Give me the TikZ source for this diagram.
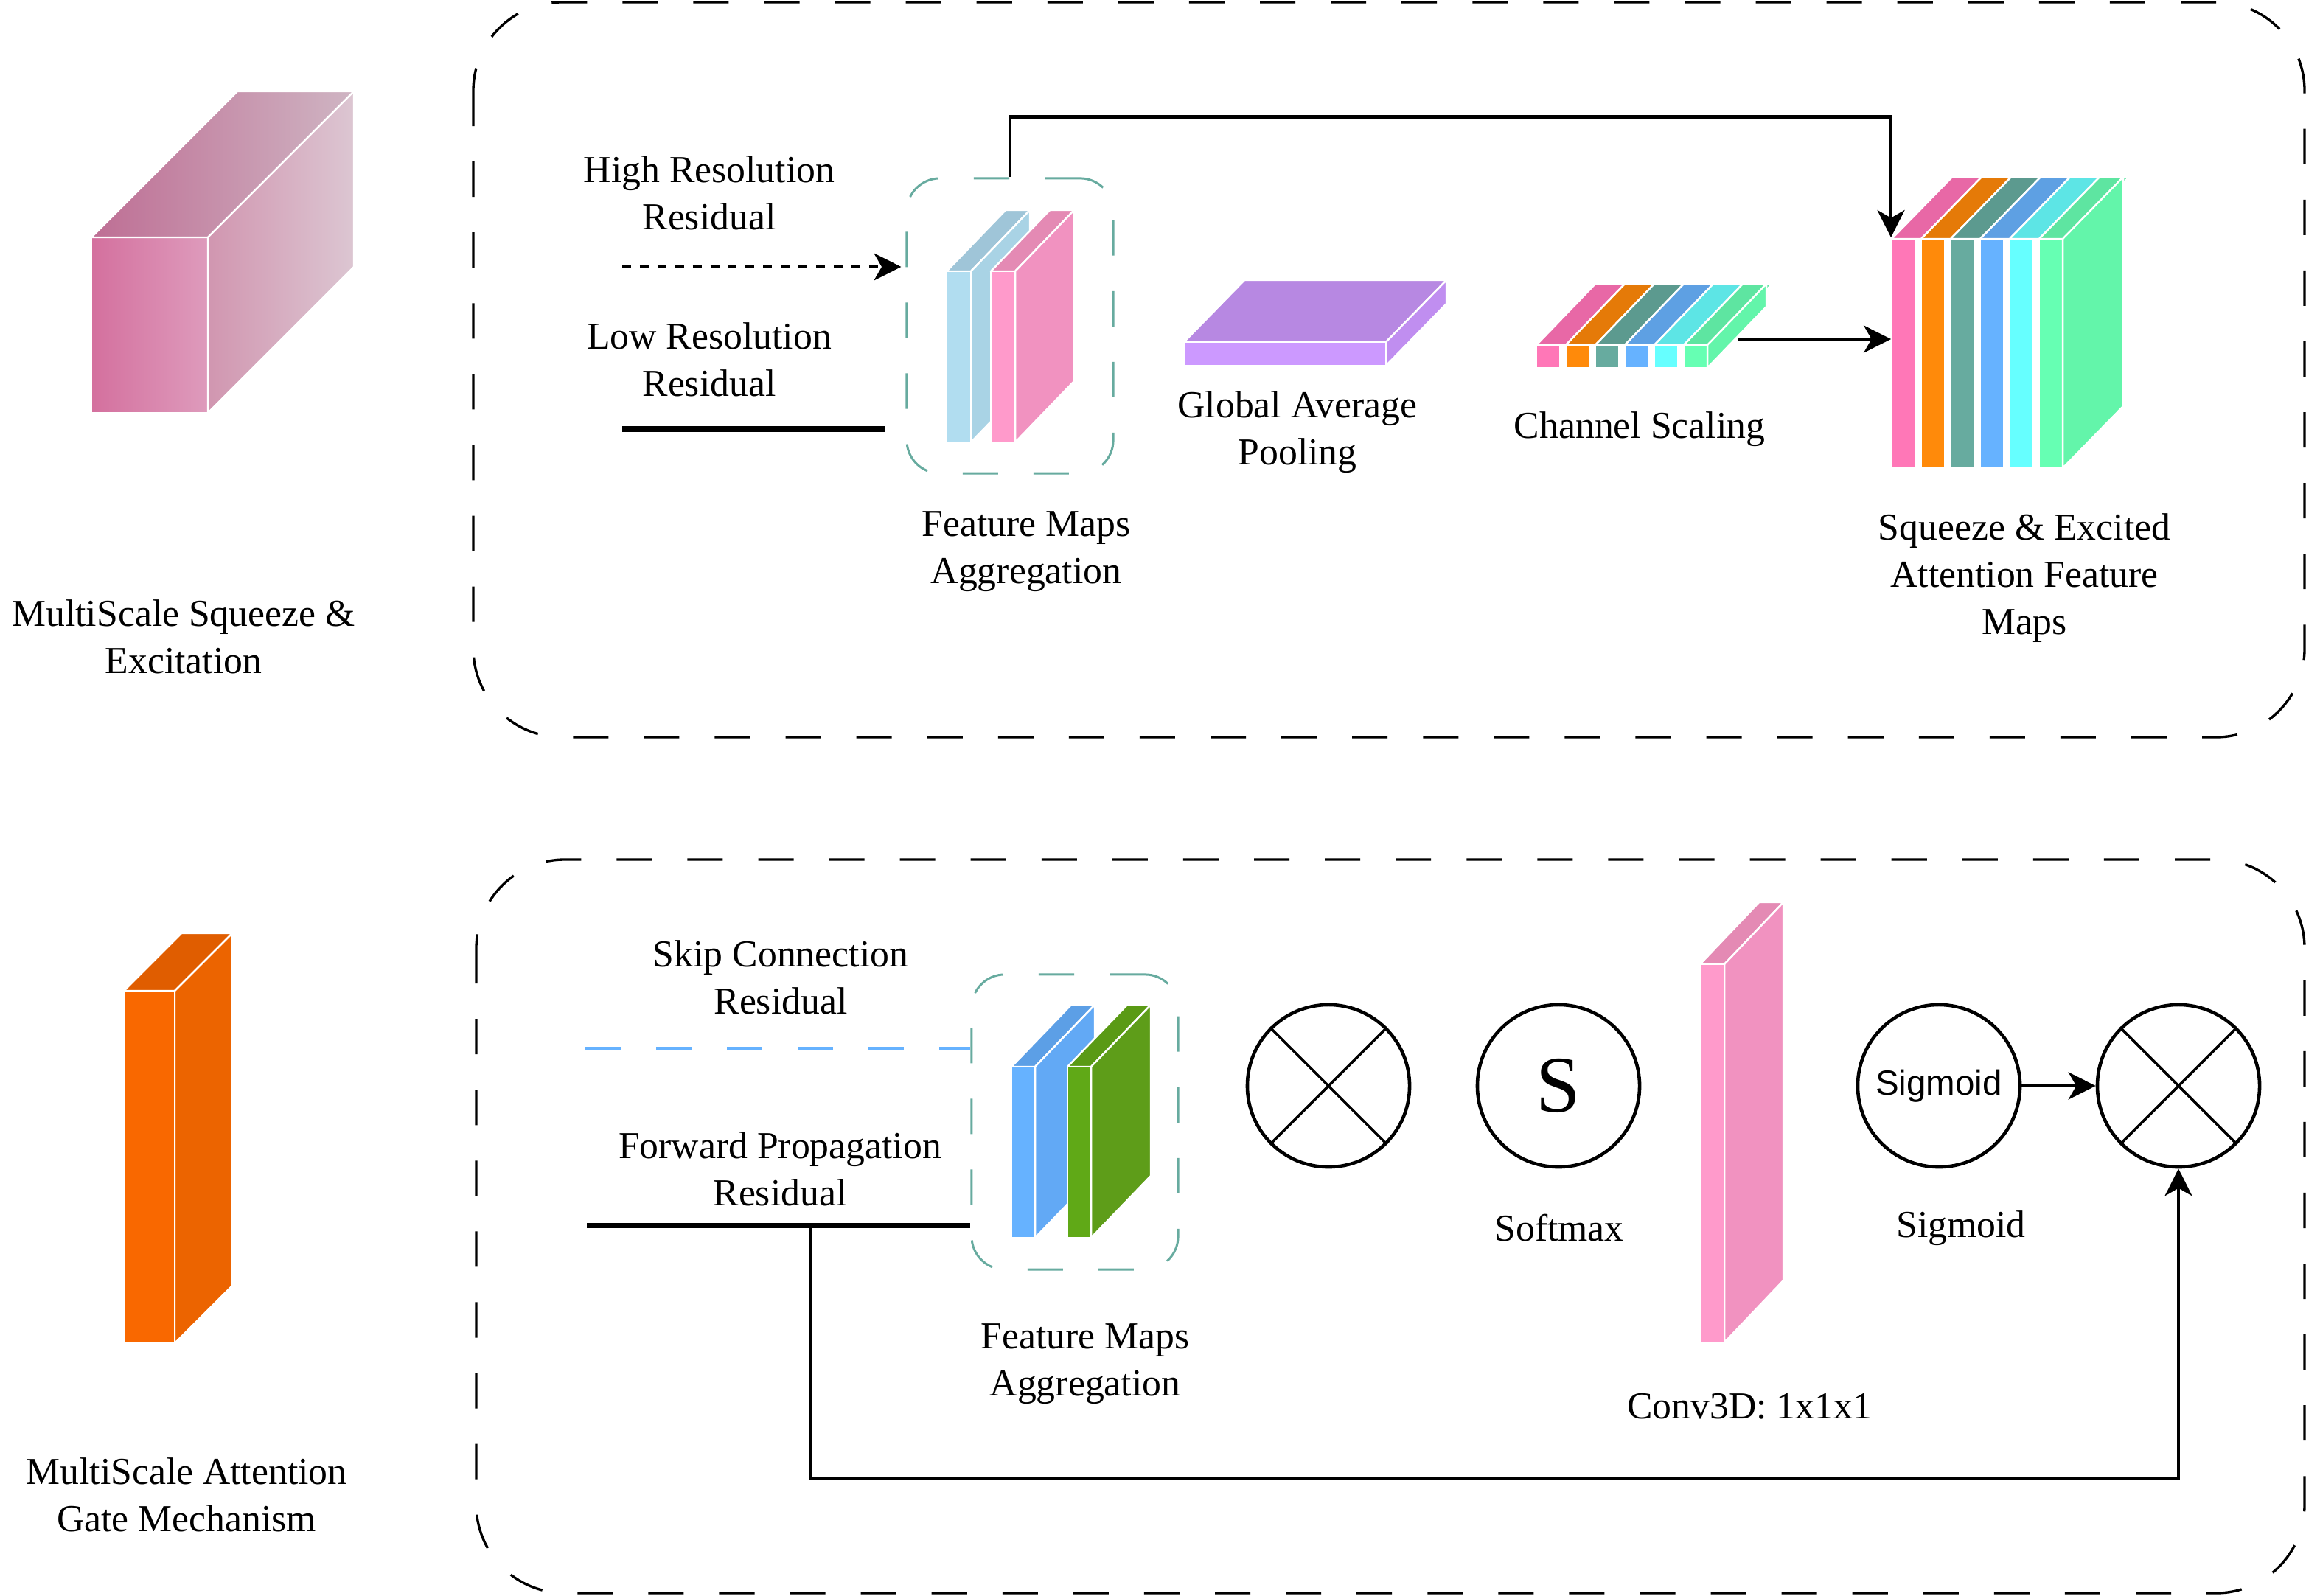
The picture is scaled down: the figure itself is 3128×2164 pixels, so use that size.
\documentclass[tikz,border=0pt]{standalone}
\usepackage{fontspec}
\setmainfont{Liberation Serif}
\newfontfamily\sansface{Liberation Sans}
\usepackage{tikz}
\usetikzlibrary{arrows.meta,positioning,calc}
\usepackage{xcolor}
\definecolor{aggteal}{HTML}{67AB9F}
\definecolor{skyF}{HTML}{B1DDF0}
\definecolor{skyS}{HTML}{A9D3E5}
\definecolor{skyT}{HTML}{9FC5D8}
\definecolor{rosF}{HTML}{FF9ACB}
\definecolor{rosS}{HTML}{F192C0}
\definecolor{rosT}{HTML}{E48AB4}
\definecolor{purF}{HTML}{CC99FF}
\definecolor{purS}{HTML}{C08EF0}
\definecolor{purT}{HTML}{B788E2}
\definecolor{azuF}{HTML}{66B2FF}
\definecolor{azuS}{HTML}{62A9F5}
\definecolor{azuT}{HTML}{5C9FE6}
\definecolor{grnF}{HTML}{60A917}
\definecolor{grnS}{HTML}{5E9D19}
\definecolor{grnT}{HTML}{5A9A15}
\definecolor{orgF}{HTML}{F96800}
\definecolor{orgS}{HTML}{EC6400}
\definecolor{orgT}{HTML}{E05D00}
\definecolor{cubeFl}{HTML}{D4709E}
\definecolor{cubeFr}{HTML}{DE9BBC}
\definecolor{cubeTl}{HTML}{BE6E94}
\definecolor{cubeTr}{HTML}{CFB5C3}
\definecolor{cubeSl}{HTML}{D196B0}
\definecolor{cubeSr}{HTML}{DCC6D2}
\definecolor{pkF}{HTML}{FF77B7}
\definecolor{pkT}{HTML}{E868A6}
\definecolor{orF}{HTML}{FF8A0A}
\definecolor{orT}{HTML}{E57A08}
\definecolor{tlF}{HTML}{67AB9F}
\definecolor{tlT}{HTML}{5C9A8F}
\definecolor{blF}{HTML}{66B2FF}
\definecolor{blT}{HTML}{5EA0E3}
\definecolor{cyF}{HTML}{66FFFF}
\definecolor{cyT}{HTML}{5DE5E5}
\definecolor{mnF}{HTML}{66FFB3}
\definecolor{mnT}{HTML}{5EE5A1}
\definecolor{mnS}{HTML}{63F5AA}

\begin{document}
\begin{tikzpicture}
    [   x = 0.01cm
    ,   y = -0.01cm
    ,   > = {Stealth[length=10.5pt,width=10.5pt,inset=3pt]}
    ,   frame/.style =
        {   draw
        ,   line width = 0.95pt
        ,   dash pattern = on 13.66pt off 13.66pt
        ,   rounded corners = 1.2cm
        }
    ,   aggbox/.style =
        {   draw = aggteal
        ,   line width = 0.85pt
        ,   dash pattern = on 13.66pt off 13.66pt
        ,   rounded corners = 0.45cm
        ,   minimum width = 2.8cm
        ,   minimum height = 4cm
        ,   inner sep = 0mm
        }
    ,   caption/.style =
        {   align = center
        ,   inner sep = 0mm
        ,   font = \fontsize{14.7}{18.2}\selectfont
        }
    ,   op/.style =
        {   draw
        ,   circle
        ,   line width = 1.3pt
        ,   inner sep = 0mm
        ,   minimum size = 2.2cm
        }
    ,   face/.style = {draw = white, line width = 0.7pt, line join = round}
    ,   link/.style = {line width = 1.3pt}
    ,   heavy/.style = {line width = 2pt}
    ]
    \useasboundingbox (0,0) rectangle (3128,2164);

    % outer frames
    \draw[frame] (642,3) rectangle (3126,1000);
    \draw[frame] (646,1166) rectangle (3126,2161);

    % legend cube
    \shadedraw[face,left color=cubeFl,right color=cubeFr] (124,322) rectangle ++(158,238);
    \shadedraw[face,left color=cubeTl,right color=cubeTr]
        (124,322) -- ++(198,-198) -- ++(158,0) -- ++(-198,198) -- cycle;
    \shadedraw[face,left color=cubeSl,right color=cubeSr]
        (282,322) -- ++(198,-198) -- ++(0,238) -- ++(-198,198) -- cycle;

    % plain prisms: front/side/top/x/y/width/height/depth x/depth y
    \foreach \cf/\cs/\ct/\px/\py/\pw/\ph/\dx/\dd in
    {   skyF/skyS/skyT/1284/368/33/232/80/83
    ,   rosF/rosS/rosT/1344/368/33/232/80/83
    ,   purF/purS/purT/1606/464/274/32/82/84
    ,   azuF/azuS/azuT/1372/1447/32/232/81/84
    ,   grnF/grnS/grnT/1448/1447/32/232/81/84
    ,   rosF/rosS/rosT/2306/1308/33/513/80/84
    ,   orgF/orgS/orgT/168/1344/69/478/78/78
    }
    {   \path[face,fill=\ct] (\px,\py) -- ++(\dx,-\dd) -- ++(\pw,0) -- ++(-\dx,\dd) -- cycle;
        \path[face,fill=\cs] (\px+\pw,\py) -- ++(\dx,-\dd) -- ++(0,\ph) -- ++(-\dx,\dd) -- cycle;
        \path[face,fill=\cf] (\px,\py) rectangle ++(\pw,\ph);
    }

    % channel stripes
    \foreach \cf/\ct [count=\i from 0] in {pkF/pkT,orF/orT,tlF/tlT,blF/blT,cyF/cyT,mnF/mnT}
    {   \path[face,fill=\ct] (2084+\i*40,468) -- ++(80,-83) -- ++(40,0) -- ++(-80,83) -- cycle;
        \path[face,fill=\cf] (2084+\i*40,468) rectangle ++(32,31);
        \path[face,fill=\ct] (2566+\i*40,324) -- ++(82,-84) -- ++(40,0) -- ++(-82,84) -- cycle;
        \path[face,fill=\cf] (2566+\i*40,324) rectangle ++(32,311);
    }
    \path[face,fill=mnS] (2316,468) -- ++(80,-83) -- ++(0,31) -- ++(-80,83) -- cycle;
    \path[face,fill=mnS] (2798,324) -- ++(82,-84) -- ++(0,311) -- ++(-82,84) -- cycle;

    % aggregation boxes
    \node[aggbox] (aggA) at (1370,442) {};
    \node[aggbox] (aggB) at (1458,1522) {};

    % captions
    \node[caption] (msse)  at (249,864)   {MultiScale Squeeze \&\\Excitation};
    \node[caption] (msag)  at (253,2028)  {MultiScale Attention\\Gate Mechanism};
    \node[caption] (hires) at (962,262)   {High Resolution\\Residual};
    \node[caption] (lores) at (962,488)   {Low Resolution\\Residual};
    \node[caption] (fmaA)  at (1392,748)  {Feature Maps\\Aggregation};
    \node[caption] (gap)   at (1760,586)  {Global Average\\Pooling};
    \node[caption] (chsc)  at (2224,582)  {Channel Scaling};
    \node[caption] (sea)   at (2746,784)  {Squeeze \& Excited\\Attention Feature\\Maps};
    \node[caption] (skip)  at (1059,1326) {Skip Connection\\Residual};
    \node[caption] (fwd)   at (1058,1586) {Forward Propagation\\Residual};
    \node[caption] (fmaB)  at (1472,1850) {Feature Maps\\Aggregation};
    \node[caption] (smx)   at (2115,1666) {Softmax};
    \node[caption] (sgm)   at (2660,1666) {Sigmoid};
    \node[caption] (conv)  at (2373,1908) {Conv3D: 1x1x1};

    % operators
    \node[op] (mulA) at (1802,1473) {};
    \node[op] (soft) at (2114,1473) {\fontsize{31}{36}\selectfont S};
    \node[op] (sig)  at (2630,1473) {\sansface\fontsize{13.5}{16}\selectfont Sigmoid};
    \node[op] (mulB) at (2955,1473) {};
    \foreach \m in {mulA,mulB}
    {   \draw[line width=1pt] (\m.45) -- (\m.225);
        \draw[line width=1pt] (\m.135) -- (\m.-45);
    }

    % connectors
    \coordinate (hiS)   at (844,362);
    \coordinate (loS)   at (844,582);
    \coordinate (seTL)  at (2565,322);
    \coordinate (chOut) at (2358,460);
    \coordinate (skipS) at (794,1422);
    \coordinate (fwdS)  at (796,1662);
    \coordinate (tap)   at (1100,1662);

    \draw[link,dash pattern=on 3.4pt off 3.4pt,->,shorten >=0.06cm] (hiS) -- (hiS -| aggA.west);
    \draw[heavy,shorten >=0.28cm] (loS) -- (loS -| aggA.west);
    \draw[link,->] (aggA.north) -- ++(0,-82) -| (seTL);
    \draw[link,->] (chOut) -- (chOut -| seTL);

    \draw[link,draw=azuF,dash pattern=on 13.66pt off 13.66pt] (skipS) -- (skipS -| aggB.west);
    \draw[heavy] (fwdS) -- (fwdS -| aggB.west);
    \draw[link,->] (tap) -- ++(0,344) -| (mulB.south);
    \draw[link,->] (sig) -- (mulB);

\end{tikzpicture}
\end{document}
